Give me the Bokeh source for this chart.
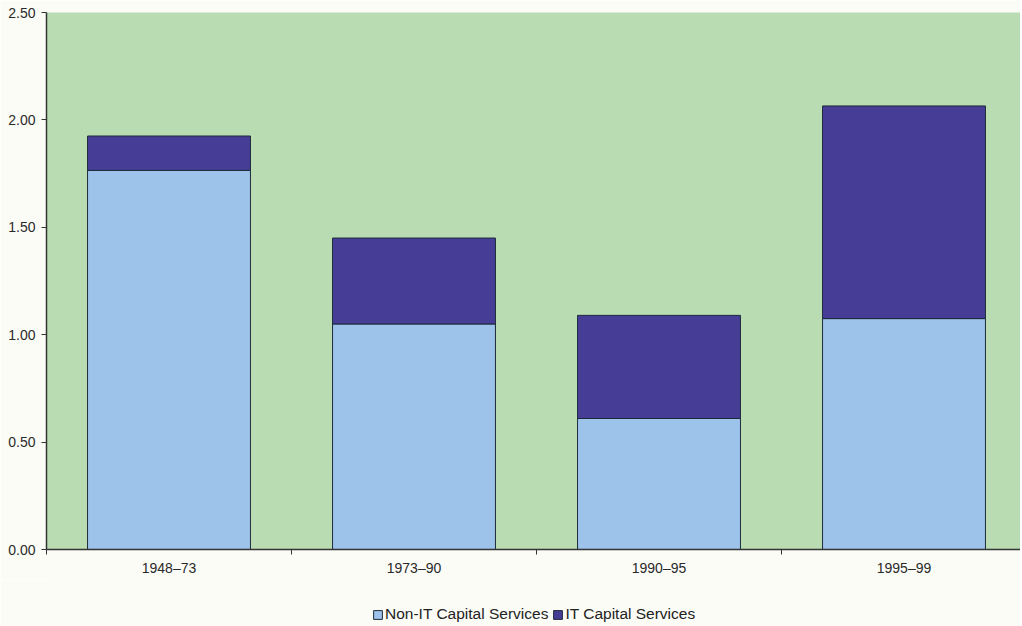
from bokeh.plotting import figure
from bokeh.layouts import column
from bokeh.models import ColumnDataSource, FixedTicker, Range1d, Legend, LegendItem
from bokeh.embed import file_html
from bokeh.resources import INLINE

periods = ["1948–73", "1973–90", "1990–95", "1995–99"]
non_it = [1.765, 1.05, 0.61, 1.075]
it = [0.16, 0.40, 0.48, 0.99]
y_ticks = [0.0, 0.5, 1.0, 1.5, 2.0, 2.5]
series_names = ["Non-IT Capital Services", "IT Capital Services"]
series_colors = ["#9dc3ea", "#463e96"]
BG = "#fcfcf7"

xs = list(range(len(periods)))
tops = [a + b for a, b in zip(non_it, it)]
src = ColumnDataSource(dict(x=xs, non_it=non_it, tops=tops, zero=[0] * len(xs)))

p = figure(width=1020, height=580, output_backend="svg", toolbar_location=None,
           x_range=Range1d(-0.5, -0.5 + 974 / 245.0), y_range=Range1d(0, 2.5),
           min_border_left=46, min_border_right=0, min_border_top=12, min_border_bottom=31)
p.background_fill_color = "#badcb3"
p.border_fill_color = BG
p.outline_line_color = None
p.xgrid.visible = False
p.ygrid.visible = False

p.vbar(x="x", width=0.665, bottom="zero", top="non_it", source=src,
       fill_color=series_colors[0], line_color="#1e2b3a", line_width=1)
p.vbar(x="x", width=0.665, bottom="non_it", top="tops", source=src,
       fill_color=series_colors[1], line_color="#1e2b3a", line_width=1)

p.yaxis.ticker = FixedTicker(ticks=y_ticks, minor_ticks=[])
p.yaxis.major_label_overrides = {t: f"{t:.2f}" for t in y_ticks}
p.xaxis.ticker = FixedTicker(ticks=xs, minor_ticks=[i - 0.5 for i in range(len(xs) + 1)])
p.xaxis.major_label_overrides = {i: s for i, s in enumerate(periods)}
for ax in (p.xaxis, p.yaxis):
    ax.axis_line_color = "#333333"
    ax.axis_line_width = 1.5
    ax.major_label_text_font = "Liberation Sans"
    ax.major_label_text_font_size = "14px"
    ax.major_label_text_color = "#2a2a2a"
    ax.major_tick_line_color = "#333333"
p.yaxis.major_tick_in = 0
p.yaxis.major_tick_out = 5
p.yaxis.major_label_standoff = 6
p.xaxis.major_tick_in = 0
p.xaxis.major_tick_out = 0
p.xaxis.minor_tick_in = 0
p.xaxis.minor_tick_out = 5
p.xaxis.minor_tick_line_color = "#333333"
p.xaxis.major_label_standoff = 5

# legend strip below the chart (swatch renderers sit outside its visible range)
p2 = figure(width=1020, height=46, output_backend="svg", toolbar_location=None,
            x_range=Range1d(0, 1), y_range=Range1d(0, 1), min_border=0)
p2.axis.visible = False
p2.grid.visible = False
p2.outline_line_color = None
p2.background_fill_color = BG
p2.border_fill_color = BG
items = []
for name, col in zip(series_names, series_colors):
    r = p2.vbar(x=[5], top=[1], width=0.1, fill_color=col, line_color="#1e2b3a", line_width=1)
    items.append(LegendItem(label=name, renderers=[r]))
legend = Legend(items=items, orientation="horizontal", location=(326, 3),
                background_fill_alpha=0, border_line_color=None,
                label_text_font="Liberation Sans", label_text_font_size="15.5px",
                label_text_color="#222222", glyph_width=11, glyph_height=11,
                label_standoff=2, spacing=4, padding=0, margin=0)
p2.add_layout(legend, "center")

layout = column(p, p2, spacing=0)
open("out.html", "w").write(file_html(layout, INLINE))
